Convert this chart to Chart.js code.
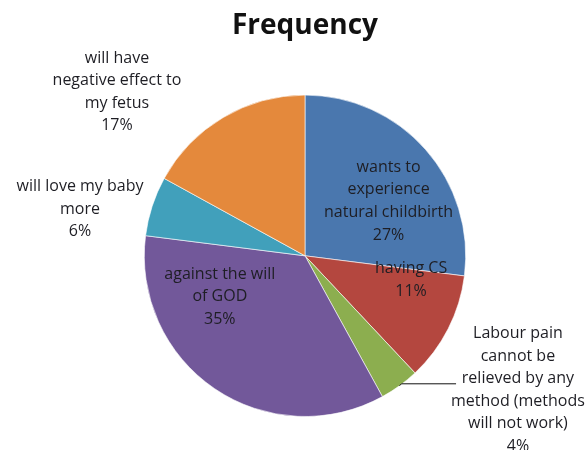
<!DOCTYPE html>
<html>
<head>
<meta charset="utf-8">
<script src="https://cdn.jsdelivr.net/npm/chart.js@4"></script>
<style>
  html, body { margin: 0; padding: 0; background: #fff; }
  #wrap { width: 587px; height: 450px; }
</style>
</head>
<body>
<div id="wrap"><canvas id="graphique" width="587" height="450"></canvas></div>
<script>
// categories and values (percent)
const categories = [
  'wants to experience natural childbirth',
  'having CS',
  'Labour pain cannot be relieved by any method (methods will not work)',
  'against the will of GOD',
  'will love my baby more',
  'will have negative effect to my fetus'
];
const values = [27, 11, 4, 35, 6, 17];
// label text as wrapped in the picture
const labelLines = [
  ['wants to', 'experience', 'natural childbirth'],
  ['having CS'],
  ['Labour pain', 'cannot be', 'relieved by any', 'method (methods', 'will not work)'],
  ['against the will', 'of GOD'],
  ['will love my baby', 'more'],
  ['will have', 'negative effect to', 'my fetus']
];
const couleurs = ['#4a77ae', '#b4473f', '#8cae4f', '#72589a', '#41a0bb', '#e4893c'];

// label placement, as fraction of radius from pie centre
const labelPos = [
  [0.52, -0.34], [0.66, 0.15], [1.325, 0.835],
  [-0.53, 0.255], [-1.40, -0.29], [-1.17, -1.02]
];

const etiquettes = {
  id: 'etiquettes',
  afterDatasetsDraw(chart) {
    const ctx = chart.ctx;
    const arcs = chart.getDatasetMeta(0).data;
    const total = values.reduce((a, b) => a + b, 0);
    ctx.save();
    ctx.font = '16px "Open Sans"';
    ctx.fillStyle = '#1e1e24';
    ctx.textAlign = 'center';
    ctx.textBaseline = 'middle';
    arcs.forEach((arc, i) => {
      const r = arc.outerRadius;
      const cx = arc.x + labelPos[i][0] * r;
      const cy = arc.y + labelPos[i][1] * r;
      const lines = labelLines[i].concat([Math.round(values[i] / total * 100) + '%']);
      const lh = 22.6;
      const y0 = cy - (lines.length - 1) * lh / 2;
      lines.forEach((l, k) => ctx.fillText(l, cx, y0 + k * lh));
      if (i === 2) {
        const mid = (arc.startAngle + arc.endAngle) / 2;
        const ex = arc.x + Math.cos(mid) * r;
        const ey = arc.y + Math.sin(mid) * r;
        ctx.strokeStyle = '#111';
        ctx.lineWidth = 1;
        ctx.beginPath();
        ctx.moveTo(ex, ey);
        ctx.lineTo(ex + 2, ey - 2);
        ctx.lineTo(arc.x + 0.94 * r, ey - 2);
        ctx.stroke();
      }
    });
    ctx.restore();
  }
};

const graphique = new Chart(document.getElementById('graphique').getContext('2d'), {
  type: 'pie',
  data: {
    labels: categories,
    datasets: [{
      data: values,
      backgroundColor: couleurs,
      borderColor: 'rgba(255,255,255,0.6)',
      borderWidth: 1
    }]
  },
  options: {
    responsive: false,
    animation: false,
    layout: { padding: { top: 9, left: 140, right: 117, bottom: 33 } },
    plugins: {
      legend: { display: false },
      tooltip: { enabled: false },
      title: {
        display: true,
        text: 'Frequency',
        color: '#111',
        font: { family: 'Open Sans', size: 28, weight: 'bold' },
        padding: { top: 0, bottom: 52 }
      }
    }
  },
  plugins: [etiquettes]
});
</script>
</body>
</html>
